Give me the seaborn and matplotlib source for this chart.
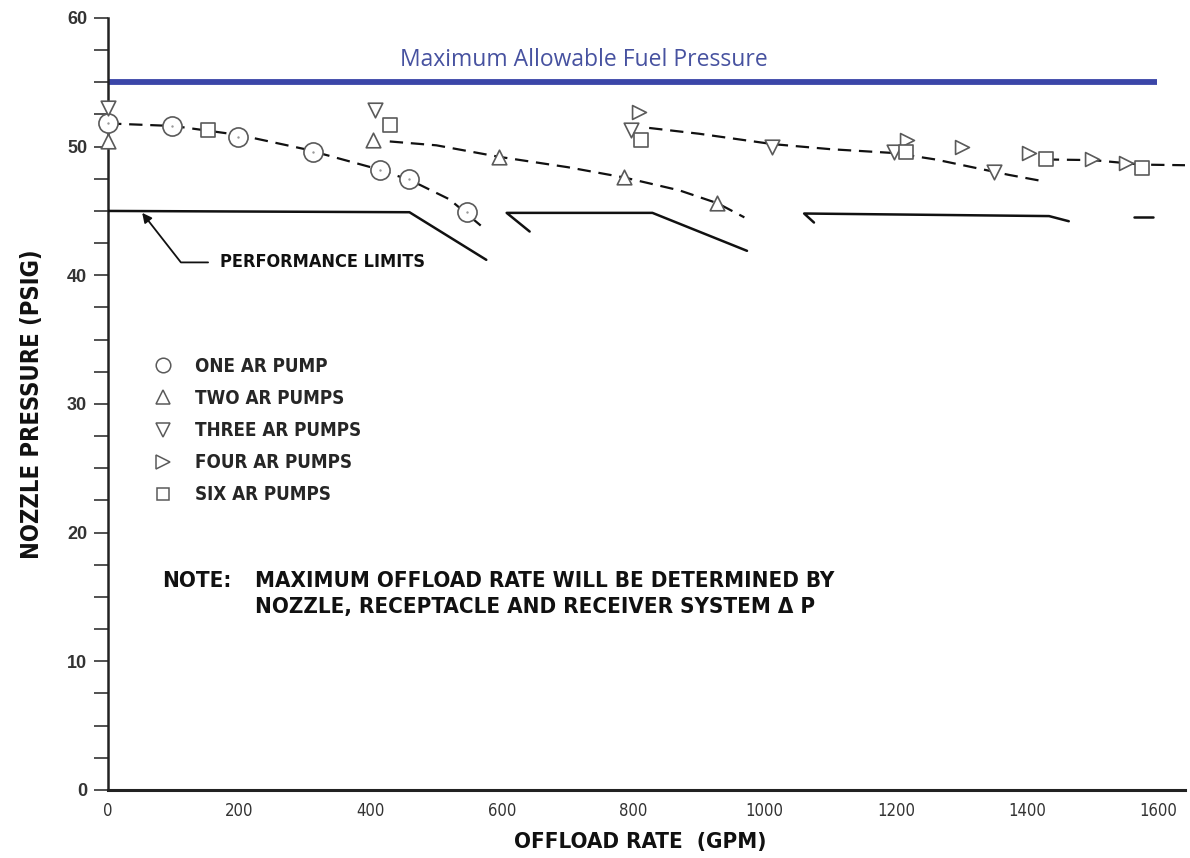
import matplotlib
matplotlib.use('Agg')
import matplotlib.pyplot as plt
import seaborn as sns
from matplotlib.lines import Line2D
from matplotlib import font_manager as fm
from matplotlib.ticker import MultipleLocator

# Pump test points (GPM, PSIG)
one_x = [0, 97, 198, 312, 414, 458, 546]
one_y = [51.8, 51.6, 50.75, 49.6, 48.2, 47.5, 44.9]
two_x = [0, 403, 596, 786, 928]
two_y = [50.4, 50.5, 49.2, 47.6, 45.6]
three_x = [0, 406, 797, 1011, 1197, 1349]
three_y = [53.0, 52.85, 51.3, 50.0, 49.6, 48.0]
four_x = [809, 1217, 1300, 1402, 1498, 1550]
four_y = [52.7, 50.5, 50.0, 49.5, 49.0, 48.7]
six_x = [152, 429, 812, 1215, 1428, 1574]
six_y = [51.3, 51.7, 50.5, 49.6, 49.0, 48.35]

# dashed faired curves
curve1_x = [0, 100, 200, 300, 400, 460, 520, 576]
curve1_y = [51.8, 51.6, 50.9, 49.8, 48.4, 47.4, 45.9, 43.5]
curve2_x = [429, 500, 596, 700, 786, 870, 928, 969]
curve2_y = [50.4, 50.1, 49.2, 48.4, 47.6, 46.6, 45.6, 44.5]
curve3_x = [824, 900, 1011, 1100, 1197, 1260, 1316, 1372, 1425]
curve3_y = [51.45, 51.0, 50.2, 49.8, 49.5, 49.0, 48.4, 47.8, 47.3]
curve4_x = [1428, 1500, 1574, 1645]
curve4_y = [49.0, 48.95, 48.6, 48.55]

# performance limit segments (solid)
limit1_x = [0, 459, 576]
limit1_y = [45.0, 44.9, 41.2]
limit2_x = [642, 607, 829, 973]
limit2_y = [43.4, 44.85, 44.85, 41.9]
limit3_x = [1075, 1060, 1433, 1463]
limit3_y = [44.1, 44.8, 44.6, 44.2]
limit4_x = [1562, 1592]
limit4_y = [44.5, 44.5]

max_pressure = 55
legend_labels = ['ONE AR PUMP', 'TWO AR PUMPS', 'THREE AR PUMPS', 'FOUR AR PUMPS', 'SIX AR PUMPS']
legend_markers = ['o', '^', 'v', '>', 's']

sns.set_style('white')

# pick a condensed bold face if one is installed
fonts = {(f.name, f.stretch) for f in fm.fontManager.ttflist}
if any(n == 'DejaVu Sans' and s == 'condensed' for n, s in fonts):
    cond = dict(family='DejaVu Sans', stretch='condensed')
elif any(n == 'Liberation Sans Narrow' for n, s in fonts):
    cond = dict(family='Liberation Sans Narrow')
else:
    cond = dict(family='DejaVu Sans')
plt.rcParams['font.family'] = ['DejaVu Sans']

fig = plt.figure(figsize=(11.9, 8.58), dpi=100)
ax = fig.add_axes([0.0908, 0.0793, 0.905, 0.8998])

edge = '#5a5a5a'
pts = [(one_x, one_y, 'o', 190), (two_x, two_y, '^', 110), (three_x, three_y, 'v', 110),
       (four_x, four_y, '>', 100), (six_x, six_y, 's', 90)]
for xs, ys, m, s in pts:
    sns.scatterplot(x=xs, y=ys, marker=m, s=s, color='white', edgecolor=edge,
                    linewidth=1.2, ax=ax, zorder=4, clip_on=False, legend=False)
sns.scatterplot(x=one_x, y=one_y, marker='o', s=3, color='#999999', linewidth=0,
                ax=ax, zorder=5, clip_on=False, legend=False)

for xs, ys in [(curve1_x, curve1_y), (curve2_x, curve2_y), (curve3_x, curve3_y), (curve4_x, curve4_y)]:
    sns.lineplot(x=xs, y=ys, sort=False, color='#111111', lw=1.6,
                 linestyle=(0, (6, 3.5)), ax=ax, zorder=3)
for xs, ys in [(limit1_x, limit1_y), (limit2_x, limit2_y), (limit3_x, limit3_y), (limit4_x, limit4_y)]:
    sns.lineplot(x=xs, y=ys, sort=False, color='#111111', lw=1.8, ax=ax, zorder=3)

ax.hlines(max_pressure, 0, 1597, color='#3b46a8', lw=4.2, zorder=2)
ax.text(724, 56.75, 'Maximum Allowable Fuel Pressure', ha='center', va='center',
        color='#4752a0', fontsize=16.5, family='Open Sans')

ax.annotate('PERFORMANCE LIMITS', xy=(52, 44.85), xytext=(170, 41.0),
            va='center', ha='left', fontsize=13, fontweight='bold', color='#111111', **cond,
            arrowprops=dict(arrowstyle='-|>', color='#111111', lw=1.3, mutation_scale=14,
                            shrinkA=6, shrinkB=0,
                            connectionstyle='angle,angleA=0,angleB=-52,rad=0'))

ax.text(82, 16.25, 'NOTE:', va='center', fontsize=16, fontweight='bold', color='#111111', **cond)
ax.text(224, 16.25, 'MAXIMUM OFFLOAD RATE WILL BE DETERMINED BY', va='center',
        fontsize=16, fontweight='bold', color='#111111', **cond)
ax.text(224, 14.2, 'NOZZLE, RECEPTACLE AND RECEIVER SYSTEM \u0394 P', va='center',
        fontsize=16, fontweight='bold', color='#111111', **cond)

handles = [Line2D([], [], ls='none', marker=m, markersize=m_size, markerfacecolor='white',
                  markeredgecolor=edge, markeredgewidth=1.1)
           for m, m_size in zip(legend_markers, [10.5, 9.5, 9.5, 9.5, 9])]
leg = ax.legend(handles, legend_labels, loc='upper left', bbox_to_anchor=(0.0423, 0.561),
                frameon=False, handlelength=1.0, handletextpad=1.2, labelspacing=0.70,
                borderpad=0, borderaxespad=0,
                prop=fm.FontProperties(size=13.5, weight='bold', **cond))

ax.set_xlim(0, 1640)
ax.set_ylim(0, 60)
ax.set_xticks([0, 200, 400, 600, 800, 1000, 1200, 1400, 1600])
ax.yaxis.set_major_locator(MultipleLocator(10))
ax.yaxis.set_minor_locator(MultipleLocator(2.5))
ax.tick_params(axis='y', which='both', direction='out', length=10, width=1.2,
               color='#333333', left=True, pad=5)
ax.tick_params(axis='x', length=0, pad=9)
for lab in ax.get_yticklabels():
    lab.set_fontsize(13)
    lab.set_fontweight('bold')
    lab.set_color('#333333')
    lab.set_family('Liberation Sans')
for lab in ax.get_xticklabels():
    lab.set_color('#333333')
    lab.set_fontproperties(fm.FontProperties(size=12, **cond))

ax.set_ylabel('NOZZLE PRESSURE (PSIG)', fontsize=17, fontweight='bold', color='#111111', **cond)
ax.set_xlabel('OFFLOAD RATE  (GPM)', fontsize=16, fontweight='bold', color='#111111', **cond)
ax.yaxis.set_label_coords(-0.0595, 0.5)
ax.xaxis.set_label_coords(0.494, -0.054)

sns.despine(ax=ax)
ax.spines['left'].set_linewidth(1.8)
ax.spines['bottom'].set_linewidth(2.2)
ax.spines['left'].set_color('#222222')
ax.spines['bottom'].set_color('#222222')

fig.savefig('out.png', dpi=100)
